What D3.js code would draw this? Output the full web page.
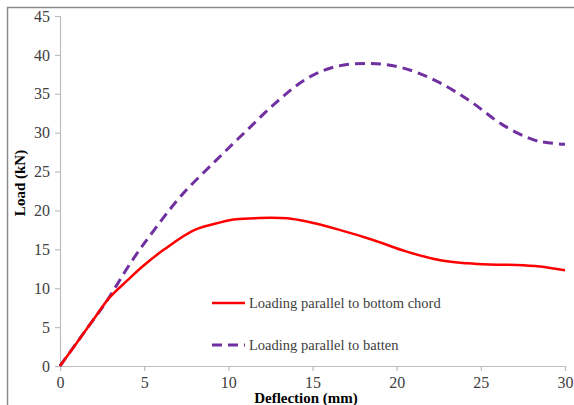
<!DOCTYPE html>
<html><head><meta charset="utf-8">
<script src="https://cdn.jsdelivr.net/npm/d3@7"></script>
<style>body{margin:0;background:#fff}svg{display:block}
svg text{font-family:"Liberation Serif","Times New Roman",Times,"DejaVu Serif",serif;}</style>
</head><body>
<script>
const xTicks = [0,5,10,15,20,25,30];
const yTicks = [0,5,10,15,20,25,30,35,40,45];
const chordX = [0,1,2,2.9,4,4.9,6.2,8,9.6,10.3,11.6,12.5,13.5,14.6,16.6,18.6,20.6,22.6,24.2,25.5,27.1,28.5,30];
const chordY = [0,3,6,8.7,11,12.8,15.0,17.5,18.5,18.85,19.0,19.07,19.0,18.6,17.5,16.2,14.7,13.6,13.2,13.05,13.0,12.8,12.3];
const battenX = [0,1,2,2.7,4.3,5.6,7.2,9.3,11.1,12.9,14.7,16.4,18.4,20.4,22.4,24.4,26.3,28.1,29,30];
const battenY = [0,3,6,8.1,13.6,17.5,21.9,26.5,30.3,34.0,37.0,38.5,38.9,38.3,36.6,34.0,31.0,29.1,28.7,28.5];
const seriesNames = ["Loading parallel to bottom chord","Loading parallel to batten"];
const xTitle = "Deflection (mm)", yTitle = "Load (kN)";

const W=574,H=405;
const svg=d3.select("body").append("svg").attr("width",W).attr("height",H);
// outer frame (cropped)
svg.append("path").attr("d","M7.5,"+(H+5)+"V7.5H"+(W+5)).attr("fill","none").attr("stroke","#8c8c8c").attr("stroke-width",1.5);

const x=d3.scaleLinear().domain([0,30]).range([60,565]);
const y=d3.scaleLinear().domain([0,45]).range([366,16]);

const xa=svg.append("g").attr("transform","translate(0,366)")
  .call(d3.axisBottom(x).tickValues(xTicks).tickSize(5).tickPadding(6).tickFormat(d3.format("d")));
const ya=svg.append("g").attr("transform","translate(60,0)")
  .call(d3.axisLeft(y).tickValues(yTicks).tickSize(5).tickPadding(5).tickFormat(d3.format("d")));
[xa,ya].forEach(a=>{
  a.attr("font-family",null).attr("font-size",null);
  a.select(".domain").attr("stroke","#bfbfbf").attr("stroke-width",1.2);
  a.selectAll(".tick line").attr("stroke","#bfbfbf").attr("stroke-width",1.2);
  a.selectAll(".tick text").style("font-size","16px").attr("fill","#404040");
});

const line=d3.line().x(d=>x(d[0])).y(d=>y(d[1])).curve(d3.curveCatmullRom.alpha(0.5));
const chord=d3.zip(chordX,chordY), batten=d3.zip(battenX,battenY);
svg.append("path").attr("d",line(batten)).attr("fill","none").attr("stroke","#7030a0")
  .attr("stroke-width",3).attr("stroke-dasharray","10,6");
svg.append("path").attr("d",line(chord)).attr("fill","none").attr("stroke","#ff0000")
  .attr("stroke-width",2.5);

// titles
svg.append("text").attr("x",306).attr("y",403).attr("text-anchor","middle")
  .style("font-weight","bold").style("font-size","15px").attr("fill","#000").text(xTitle);
svg.append("text").attr("transform","translate(25,183) rotate(-90)").attr("text-anchor","middle")
  .style("font-weight","bold").style("font-size","15px").attr("fill","#000").text(yTitle);

// legend
const leg=[{c:"#ff0000",w:2.5,dash:null,yy:303},{c:"#7030a0",w:3,dash:"10,6",yy:345}];
leg.forEach((l,i)=>{
  svg.append("line").attr("x1",212).attr("x2",245).attr("y1",l.yy).attr("y2",l.yy)
    .attr("stroke",l.c).attr("stroke-width",l.w).attr("stroke-dasharray",l.dash);
  svg.append("text").attr("x",249).attr("y",l.yy+5).style("font-size","14.5px")
    .attr("fill","#404040").text(seriesNames[i]);
});
</script>
</body></html>
